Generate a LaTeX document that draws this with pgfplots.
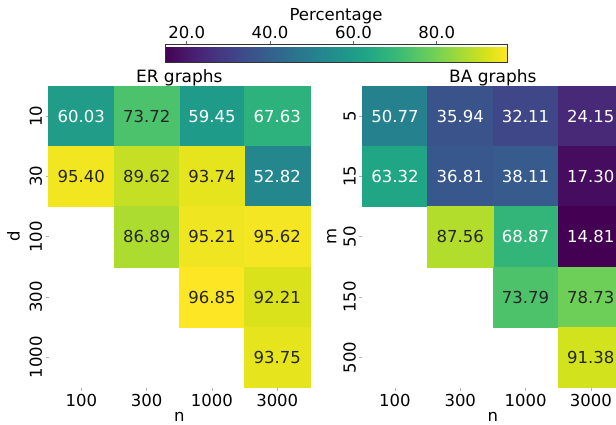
\documentclass[border=0pt]{standalone}
\usepackage{pgfplots}
\usepackage{pgfplotstable}
\pgfplotsset{compat=1.18}
\usepackage{fontspec}
\setmainfont{DejaVu Sans}
\definecolor{annotdark}{HTML}{262626}
\pgfplotstableread{
x y v
0 0 60.03
2 0 59.45
3 0 67.63
3 1 52.82
}\ERlight
\pgfplotstableread{
x y v
1 0 73.72
0 1 95.40
1 1 89.62
2 1 93.74
1 2 86.89
2 2 95.21
3 2 95.62
2 3 96.85
3 3 92.21
3 4 93.75
}\ERdark
\pgfplotstableread{
x y v
0 0 50.77
1 0 35.94
2 0 32.11
3 0 24.15
0 1 63.32
1 1 36.81
2 1 38.11
3 1 17.30
2 2 68.87
3 2 14.81
}\BAlight
\pgfplotstableread{
x y v
1 2 87.56
2 3 73.79
3 3 78.73
3 4 91.38
}\BAdark
\begin{document}
\begin{tikzpicture}
\pgfplotsset{
  /pgf/number format/assume math mode=true,
  hm/.style={
    scale only axis, width=261.2pt, height=301.5pt,
    xmin=-0.5, xmax=3.5, ymin=-0.5, ymax=4.5, y dir=reverse,
    axis line style={draw=none},
    tick align=outside, major tick length=3pt,
    tick style={gray!60, line width=0.5pt},
    xtick={0,1,2,3}, xticklabels={100,300,1000,3000},
    ytick={0,1,2,3,4},
    xtick pos=lower, ytick pos=left,
    ticklabel style={font=\fontsize{16.5}{18}\selectfont},
    yticklabel style={rotate=90, anchor=south},
    colormap/viridis, point meta min=14.81, point meta max=96.85,
    label style={font=\fontsize{16.5}{18}\selectfont},
    xlabel style={inner sep=1pt, yshift=-1.5pt},
    title style={font=\fontsize{17}{19}\selectfont, yshift=-10pt},
  },
  cell/.style={scatter, only marks, mark=square*, mark size=30.15pt,
     scatter/use mapped color={draw=mapped color, fill=mapped color},
     every mark/.append style={xscale=1.083},
     point meta=explicit},
  lab/.style={only marks, mark=none, point meta=explicit,
     nodes near coords={\pgfmathprintnumber[fixed,fixed zerofill,precision=2]{\pgfplotspointmeta}},
     every node near coord/.append style={anchor=center, font=\fontsize{16.5}{18}\selectfont, text=#1}},
}
\path[use as bounding box] (0,0) rectangle (616pt,425pt);
% ER graphs
\begin{axis}[hm, at={(48.7pt,37.5pt)}, anchor=south west,
  yticklabels={10,30,100,300,1000}, xlabel={n}, ylabel={d}, title={ER graphs},
  ylabel style={yshift=3pt},
  colorbar horizontal,
  colorbar style={at={(parent axis.south west)}, anchor=south west,
    xshift=116.3pt, yshift=334pt,
    scale only axis, width=342pt, height=17.5pt,
    xtick={20,40,60,80}, xtick pos=upper, xticklabel pos=upper,
    tick align=outside, major tick length=3.5pt,
    tick style={black!60, line width=0.6pt},
    axis line style={black!80, line width=0.6pt},
    xticklabel style={font=\fontsize{16.5}{18}\selectfont, inner sep=2.5pt, /pgf/number format/.cd, fixed, fixed zerofill, precision=1},
    xlabel={Percentage}, xlabel style={font=\fontsize{16.5}{18}\selectfont, inner sep=1pt, yshift=-1.5pt},
  }]
\addplot[cell] table[x=x, y=y, meta=v] {\ERlight};
\addplot[cell] table[x=x, y=y, meta=v] {\ERdark};
\addplot[lab=white] table[x=x, y=y, meta=v] {\ERlight};
\addplot[lab=annotdark] table[x=x, y=y, meta=v] {\ERdark};
\end{axis}
% BA graphs
\begin{axis}[hm, at={(362.3pt,37.5pt)}, anchor=south west,
  yticklabels={5,15,50,150,500}, xlabel={n}, ylabel={m}, title={BA graphs}]
\addplot[cell] table[x=x, y=y, meta=v] {\BAlight};
\addplot[cell] table[x=x, y=y, meta=v] {\BAdark};
\addplot[lab=white] table[x=x, y=y, meta=v] {\BAlight};
\addplot[lab=annotdark] table[x=x, y=y, meta=v] {\BAdark};
\end{axis}
\end{tikzpicture}
\end{document}
